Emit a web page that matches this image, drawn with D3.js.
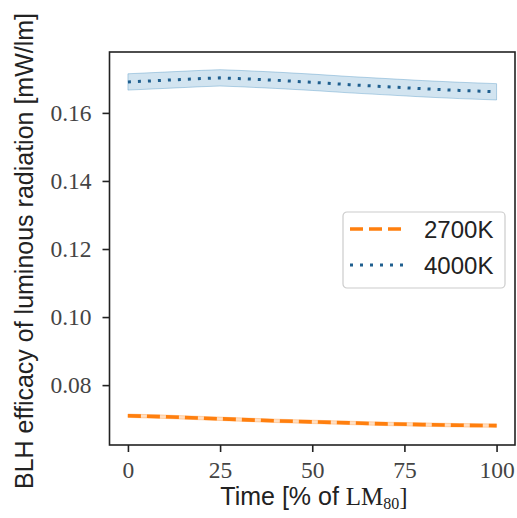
<!DOCTYPE html>
<html>
<head>
<meta charset="utf-8">
<script src="https://cdn.jsdelivr.net/npm/d3@7"></script>
<style>
  body { margin: 0; background: #fff; }
  .tick text { font-family: "Liberation Serif", "DejaVu Serif", serif; font-size: 23.5px; fill: #444; }
  .lbl { font-family: "Liberation Sans", Arial, sans-serif; font-size: 24px; fill: #222; }
  .lbl.big { font-size: 25px; }
</style>
</head>
<body>
<div id="chart"></div>
<script>
// data
const time = [0, 10, 20, 25, 30, 40, 50, 60, 70, 80, 90, 100];
const blh4000 = [0.1691, 0.1696, 0.1701, 0.1703, 0.1701, 0.1696, 0.1690, 0.1683, 0.1677, 0.1671, 0.1666, 0.1662];
const band4000 = 0.0024;
const blh2700 = [0.0710, 0.0707, 0.0703, 0.0701, 0.0699, 0.0695, 0.0692, 0.0689, 0.0686, 0.0684, 0.0682, 0.0681];
const band2700 = 0.0005;
const xTicks = [0, 25, 50, 75, 100];
const yTicks = [0.08, 0.10, 0.12, 0.14, 0.16];
const series = ["2700K", "4000K"];

const width = 517, height = 518;
const margin = { top: 52, right: 2, bottom: 73, left: 109.5 };

const svg = d3.select("#chart").append("svg")
  .attr("width", width).attr("height", height);

const x = d3.scaleLinear().domain([-5, 105]).range([margin.left, width - margin.right]);
const y = d3.scaleLinear().domain([0.0624, 0.1779]).range([height - margin.bottom, margin.top]);

const rows4000 = time.map((t, i) => ({ t, v: blh4000[i] }));
const rows2700 = time.map((t, i) => ({ t, v: blh2700[i] }));

const area = (b) => d3.area().x(d => x(d.t)).y0(d => y(d.v - b)).y1(d => y(d.v + b));
const line = d3.line().x(d => x(d.t)).y(d => y(d.v));

// bands
svg.append("path").datum(rows2700).attr("d", area(band2700))
  .attr("fill", "#ff7f0e").attr("fill-opacity", 0.25)
  .attr("stroke", "#ff7f0e").attr("stroke-opacity", 0.3);
svg.append("path").datum(rows4000).attr("d", area(band4000))
  .attr("fill", "#1f77b4").attr("fill-opacity", 0.2)
  .attr("stroke", "#1f77b4").attr("stroke-opacity", 0.3);

// lines
svg.append("path").datum(rows2700).attr("d", line)
  .attr("fill", "none").attr("stroke", "#ff7f0e").attr("stroke-width", 3.6)
  .attr("stroke-dasharray", "13,6");
svg.append("path").datum(rows4000).attr("d", line)
  .attr("fill", "none").attr("stroke", "#1f5f8f").attr("stroke-width", 3)
  .attr("stroke-dasharray", "3,7");

// frame
svg.append("rect")
  .attr("x", margin.left).attr("y", margin.top)
  .attr("width", width - margin.right - margin.left)
  .attr("height", height - margin.bottom - margin.top)
  .attr("fill", "none").attr("stroke", "#222").attr("stroke-width", 1.6);

// axes
svg.append("g")
  .attr("transform", `translate(0,${height - margin.bottom})`)
  .call(d3.axisBottom(x).tickValues(xTicks).tickSize(7).tickPadding(9).tickFormat(d3.format("d")))
  .call(g => g.select(".domain").remove())
  .call(g => g.selectAll("line").attr("stroke", "#222").attr("stroke-width", 1.6));

svg.append("g")
  .attr("transform", `translate(${margin.left},0)`)
  .call(d3.axisLeft(y).tickValues(yTicks).tickSize(7).tickPadding(11).tickFormat(d3.format(".2f")))
  .call(g => g.select(".domain").remove())
  .call(g => g.selectAll("line").attr("stroke", "#222").attr("stroke-width", 1.6));

// axis labels
const xl = svg.append("text").attr("class", "lbl big")
  .attr("x", 314).attr("y", 505)
  .attr("text-anchor", "middle");
xl.append("tspan").text("Time [% of ");
xl.append("tspan").attr("font-family", "Liberation Serif, serif").attr("font-size", 25).text("LM");
xl.append("tspan").attr("font-family", "Liberation Serif, serif").attr("font-size", 16).attr("dy", 4).text("80");
xl.append("tspan").attr("font-family", "Liberation Serif, serif").attr("dy", -4).text("]");

svg.append("text").attr("class", "lbl big")
  .attr("transform", `translate(33,251) rotate(-90)`)
  .attr("text-anchor", "middle")
  .text("BLH efficacy of luminous radiation [mW/lm]");

// legend
const lg = svg.append("g").attr("transform", "translate(343,212)");
lg.append("rect").attr("width", 162).attr("height", 76).attr("rx", 4)
  .attr("fill", "#fff").attr("fill-opacity", 0.85)
  .attr("stroke", "#ccc").attr("stroke-width", 1.2);
const styles = [
  { c: "#ff7f0e", w: 3.6, dash: "13,6" },
  { c: "#1f5f8f", w: 3, dash: "3,7" }
];
series.forEach((s, i) => {
  const yy = 17 + i * 36;
  lg.append("line").attr("x1", 7).attr("x2", 60).attr("y1", yy).attr("y2", yy)
    .attr("stroke", styles[i].c).attr("stroke-width", styles[i].w)
    .attr("stroke-dasharray", styles[i].dash);
  lg.append("text").attr("class", "lbl").attr("x", 81).attr("y", yy + 9).text(s);
});
</script>
</body>
</html>
